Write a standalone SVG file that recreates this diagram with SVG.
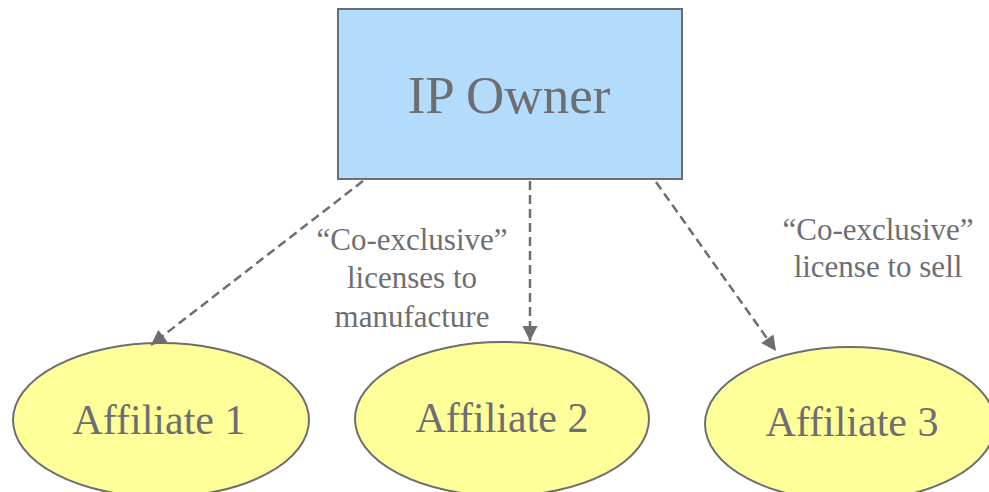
<svg xmlns="http://www.w3.org/2000/svg" width="989" height="492" viewBox="0 0 989 492">
<style>
.t{font-family:'Liberation Serif','DejaVu Serif',serif;fill:#6d6e71;text-anchor:middle}
.node{stroke:#6d6e71;stroke-width:2}
.edge{stroke:#6d6e71;stroke-width:2.5;stroke-dasharray:9 5;fill:none}
</style>
<defs>
<marker id="ah" viewBox="0 0 10 10" refX="10" refY="5" markerWidth="6.5" markerHeight="6" markerUnits="strokeWidth" orient="auto">
<path d="M0,0 L10,5 L0,10 z" fill="#6d6e71"/>
</marker>
</defs>
<rect width="989" height="492" fill="#ffffff"/>
<g id="ip-owner">
<rect class="node" x="338" y="9" width="344" height="170" fill="#b3dbfb"/>
<text class="t" x="509" y="113" font-size="53">IP Owner</text>
</g>
<g id="affiliate-1">
<ellipse class="node" cx="161" cy="420" rx="148" ry="77" fill="#ffff99"/>
<text class="t" x="159" y="434" font-size="42">Affiliate 1</text>
</g>
<g id="affiliate-2">
<ellipse class="node" cx="502" cy="419" rx="147" ry="77" fill="#ffff99"/>
<text class="t" x="502" y="432" font-size="42">Affiliate 2</text>
</g>
<g id="affiliate-3">
<ellipse class="node" cx="850" cy="424" rx="145" ry="77" fill="#ffff99"/>
<text class="t" x="852" y="436" font-size="42">Affiliate 3</text>
</g>
<g id="connectors">
<line class="edge" x1="363" y1="181" x2="151" y2="345" marker-end="url(#ah)"/>
<line class="edge" x1="530" y1="181" x2="530" y2="341" marker-end="url(#ah)"/>
<line class="edge" x1="656" y1="182" x2="776" y2="351" marker-end="url(#ah)"/>
</g>
<g id="labels">
<text class="t" font-size="31"><tspan x="412" y="250">“Co-exclusive”</tspan><tspan x="412" y="288">licenses to</tspan><tspan x="412" y="327">manufacture</tspan></text>
<text class="t" font-size="31"><tspan x="878" y="240">“Co-exclusive”</tspan><tspan x="878" y="277">license to sell</tspan></text>
</g>
</svg>
